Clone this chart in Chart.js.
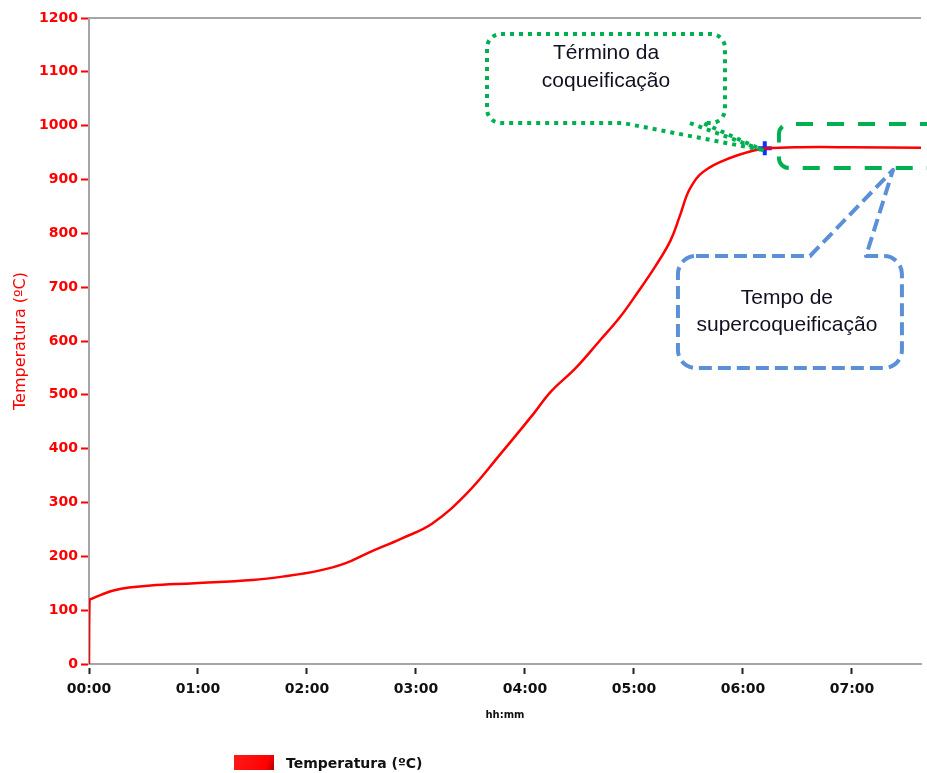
<!DOCTYPE html>
<html>
<head>
<meta charset="utf-8">
<script src="https://cdn.jsdelivr.net/npm/chart.js@4.4.0/dist/chart.umd.min.js"></script>
<style>
html,body{margin:0;padding:0;background:#fff;}
#wrap{width:927px;height:773px;}
</style>
</head>
<body>
<div id="wrap"><canvas id="c" width="927" height="773"></canvas></div>
<script>
// ---- data (time in minutes since start, temperature in °C) ----
const timeMinutes  = [0, 0.3, 2, 7, 14, 22, 34, 58, 90, 108, 126, 141, 154, 172, 189, 208, 226, 245, 254, 268, 281, 292, 302, 312, 320, 325, 329, 332, 336, 342, 347, 357, 366, 373, 391, 419, 458];
const temperatureC = [0, 118, 122, 129, 137, 142, 146, 150, 156, 163, 173, 187, 207, 233, 261, 317, 388, 466, 505, 550, 600, 643, 690, 740, 786, 830, 870, 890, 908, 923, 932, 945, 954, 958, 960, 960, 959];
const xTickMinutes = [0, 60, 120, 180, 240, 300, 360, 420];
const xTickLabels  = ['00:00', '01:00', '02:00', '03:00', '04:00', '05:00', '06:00', '07:00'];
const yTickValues  = [0, 100, 200, 300, 400, 500, 600, 700, 800, 900, 1000, 1100, 1200];
const endOfCoking  = [{ x: 372, y: 958 }];
const seriesLabel  = 'Temperatura (ºC)';
const xAxisTitle   = 'hh:mm';
const calloutCokingText = ['Término da', 'coqueificação'];
const calloutSuperText  = ['Tempo de', 'supercoqueificação'];

// ---- callout geometry, in axis units (minutes, °C) ----
const calloutCoking = { x1: 219.1, x2: 350.1, yTop: 1170.3, yBot: 1004.9, radius: 14,
  tailA: 293.9, tailB: 338, extra: 330.8, tipX: 370.5, tipY: 955, textX: 284.6, textY: [1135, 1083] };
const superBand = { x1: 379.8, yTop: 1003, yBot: 921.4, radius: 10 };
const calloutSuper = { x1: 324.2, x2: 447.5, yTop: 757.9, yBot: 549.9, radius: 18,
  tailA: 396.9, tailB: 427.7, tipX: 442.6, tipY: 917.7, textX: 384.2, textY: [679.9, 629.7] };

const points = timeMinutes.map((t, i) => ({ x: t, y: temperatureC[i] }));

const annotationPlugin = {
  id: 'callouts',
  afterDatasetsDraw(chart) {
    const ctx = chart.ctx;
    const X = v => chart.scales.x.getPixelForValue(v);
    const Y = v => chart.scales.y.getPixelForValue(v);
    ctx.save();
    ctx.lineJoin = 'round';

    // green dashed band (supercoking time)
    {
      const l = X(superBand.x1), t = Y(superBand.yTop), b = Y(superBand.yBot), r = superBand.radius;
      const far = chart.width + 10;
      ctx.beginPath();
      ctx.moveTo(far, t);
      ctx.lineTo(l + r, t);
      ctx.arcTo(l, t, l, t + r, r);
      ctx.lineTo(l, b - r);
      ctx.arcTo(l, b, l + r, b, r);
      ctx.lineTo(far, b);
      ctx.strokeStyle = '#00b050';
      ctx.lineWidth = 4;
      ctx.setLineDash([17, 14]);
      ctx.stroke();
    }

    // green dotted callout (end of coking)
    {
      const c = calloutCoking;
      const l = X(c.x1), r = X(c.x2), t = Y(c.yTop), b = Y(c.yBot), rad = c.radius;
      const tx = X(c.tipX), ty = Y(c.tipY);
      ctx.beginPath();
      ctx.moveTo(l + rad, t);
      ctx.lineTo(r - rad, t);
      ctx.arcTo(r, t, r, t + rad, rad);
      ctx.lineTo(r, b - rad);
      ctx.arcTo(r, b, X(c.tailB), b, rad);
      ctx.lineTo(X(c.tailB), b);
      ctx.lineTo(tx, ty);
      ctx.lineTo(X(c.tailA), b);
      ctx.lineTo(l + rad, b);
      ctx.arcTo(l, b, l, b - rad, rad);
      ctx.lineTo(l, t + rad);
      ctx.arcTo(l, t, l + rad, t, rad);
      ctx.closePath();
      ctx.moveTo(X(c.extra), b);
      ctx.lineTo(tx, ty);
      ctx.strokeStyle = '#00b050';
      ctx.lineWidth = 4;
      ctx.setLineDash([4, 5]);
      ctx.stroke();

      ctx.setLineDash([]);
      ctx.fillStyle = '#111122';
      ctx.font = '21px "Liberation Sans", Arial, sans-serif';
      ctx.textAlign = 'center';
      ctx.textBaseline = 'middle';
      calloutCokingText.forEach((s, i) => ctx.fillText(s, X(c.textX), Y(c.textY[i])));
    }

    // blue dashed callout (supercoking time)
    {
      const c = calloutSuper;
      const l = X(c.x1), r = X(c.x2), t = Y(c.yTop), b = Y(c.yBot), rad = c.radius;
      const tx = X(c.tipX), ty = Y(c.tipY);
      ctx.beginPath();
      ctx.moveTo(l + rad, t);
      ctx.lineTo(X(c.tailA), t);
      ctx.lineTo(tx, ty);
      ctx.lineTo(X(c.tailB), t);
      ctx.lineTo(r - rad, t);
      ctx.arcTo(r, t, r, t + rad, rad);
      ctx.lineTo(r, b - rad);
      ctx.arcTo(r, b, r - rad, b, rad);
      ctx.lineTo(l + rad, b);
      ctx.arcTo(l, b, l, b - rad, rad);
      ctx.lineTo(l, t + rad);
      ctx.arcTo(l, t, l + rad, t, rad);
      ctx.closePath();
      ctx.strokeStyle = '#5b8fd6';
      ctx.lineWidth = 4;
      ctx.setLineDash([13, 6]);
      ctx.stroke();

      ctx.setLineDash([]);
      ctx.fillStyle = '#111122';
      ctx.font = '21px "Liberation Sans", Arial, sans-serif';
      ctx.textAlign = 'center';
      ctx.textBaseline = 'middle';
      calloutSuperText.forEach((s, i) => ctx.fillText(s, X(c.textX), Y(c.textY[i])));
    }
    ctx.restore();
  },
  afterDraw(chart) {
    const ctx = chart.ctx;
    const a = chart.chartArea;
    ctx.save();
    // top frame line
    ctx.strokeStyle = '#a6a6a6';
    ctx.lineWidth = 2;
    ctx.beginPath();
    ctx.moveTo(a.left, a.top);
    ctx.lineTo(a.right, a.top);
    ctx.stroke();
    // custom legend
    const ds = chart.data.datasets[0];
    const bx = 234, by = 755;
    const grad = ctx.createLinearGradient(bx, by, bx + 40, by + 15);
    grad.addColorStop(0, '#ff1a1a');
    grad.addColorStop(0.8, '#ff0000');
    grad.addColorStop(1, '#b00000');
    ctx.fillStyle = grad;
    ctx.fillRect(bx, by, 40, 15);
    ctx.fillStyle = '#111';
    ctx.font = 'bold 14px "DejaVu Sans", Verdana, sans-serif';
    ctx.textAlign = 'left';
    ctx.textBaseline = 'middle';
    ctx.fillText(ds.label, 286, 764);
    ctx.restore();
  }
};

new Chart(document.getElementById('c'), {
  type: 'line',
  data: {
    datasets: [
      {
        label: seriesLabel,
        data: points,
        borderColor: '#ff0000',
        backgroundColor: '#ff0000',
        borderWidth: 2.5,
        pointRadius: 0,
        tension: 0.4,
        fill: false
      },
      {
        label: 'marker',
        data: endOfCoking,
        showLine: false,
        pointStyle: 'cross',
        pointRadius: 7,
        pointBorderWidth: 4,
        pointBorderColor: '#1030ff',
        pointBackgroundColor: '#1030ff'
      }
    ]
  },
  options: {
    responsive: false,
    animation: false,
    devicePixelRatio: 1,
    layout: { autoPadding: false, padding: { top: 18, right: 6, left: 0, bottom: 0 } },
    plugins: { legend: { display: false }, tooltip: { enabled: false } },
    scales: {
      x: {
        type: 'linear',
        min: 0,
        max: 458,
        afterFit(s) { s.height = 109; s.paddingLeft = 0; s.paddingRight = 0; },
        afterBuildTicks(s) { s.ticks = xTickMinutes.map(v => ({ value: v })); },
        ticks: {
          callback: (v) => xTickLabels[xTickMinutes.indexOf(v)],
          color: '#111',
          font: { family: '"DejaVu Sans", Verdana, sans-serif', size: 14, weight: 'bold' },
          padding: 7,
          maxRotation: 0,
          autoSkip: false
        },
        grid: {
          drawOnChartArea: false,
          drawTicks: true,
          tickLength: 10,
          tickColor: '#222',
          tickWidth: 2,
          tickBorderDash: [0, 3, 7, 50]
        },
        border: { display: true, color: '#a6a6a6', width: 2 },
        title: {
          display: true,
          text: xAxisTitle,
          color: '#111',
          font: { family: '"DejaVu Sans", Verdana, sans-serif', size: 10, weight: 'bold' },
          padding: { top: 0, bottom: 52 }
        }
      },
      y: {
        min: 0,
        max: 1200,
        afterFit(s) { s.width = 89; },
        afterBuildTicks(s) { s.ticks = yTickValues.map(v => ({ value: v })); },
        ticks: {
          callback: (v) => String(v),
          color: '#ff0000',
          font: { family: '"DejaVu Sans", Verdana, sans-serif', size: 14, weight: 'bold' },
          padding: 3
        },
        grid: {
          drawOnChartArea: false,
          drawTicks: true,
          tickLength: 8,
          tickColor: '#ff0000',
          tickWidth: 2
        },
        border: { display: true, color: '#a6a6a6', width: 2 },
        title: {
          display: true,
          text: seriesLabel,
          color: '#ff0000',
          font: { family: '"DejaVu Sans", Verdana, sans-serif', size: 16, weight: 'normal' },
          padding: { top: 11, bottom: 0 }
        }
      }
    }
  },
  plugins: [annotationPlugin]
});
</script>
</body>
</html>
